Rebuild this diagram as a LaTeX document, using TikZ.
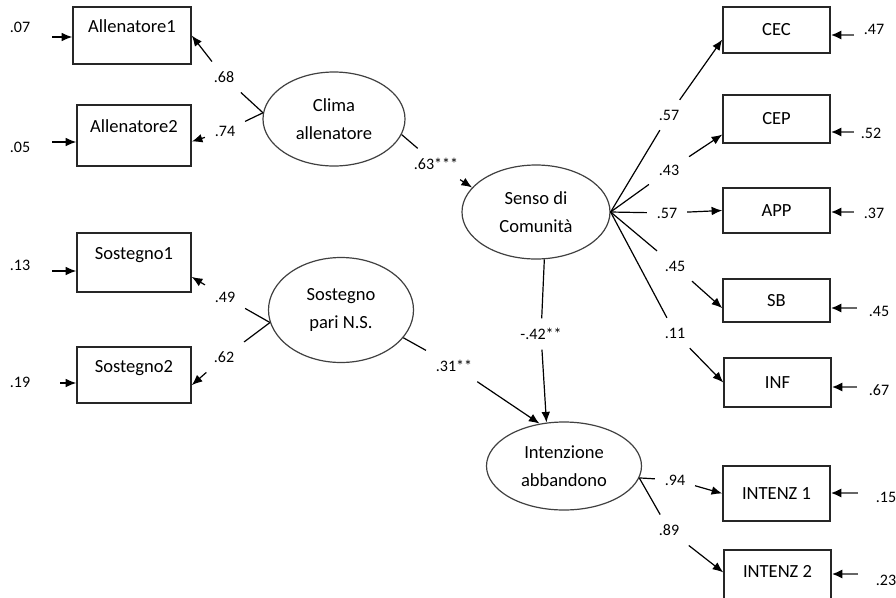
\documentclass[tikz,border=0pt]{standalone}
\usepackage{fontspec}
\setmainfont{Carlito}
\usetikzlibrary{shapes.geometric, arrows.meta}

\begin{document}
\begin{tikzpicture}[x=0.75pt, y=-0.75pt, line width=0.9pt,
		obs/.style={draw=black!85, line width=1.1pt, inner sep=0pt, minimum width=107*0.75pt, minimum height=46*0.75pt, font=\fontsize{13.9}{21}\selectfont},
		obsl/.style={obs, text height=10pt, text depth=14.3pt},
		lat/.style={draw=black!75, ellipse, inner sep=0pt, align=center, font=\fontsize{13.9}{21}\selectfont},
		coef/.style={inner sep=7pt, font=\fontsize{12}{14}\selectfont},
		err/.style={font=\fontsize{12}{14}\selectfont},
		arr/.style={-{Latex[length=8pt, width=6.5pt]}},
		errarr/.style={-{Latex[length=8pt, width=7pt, color=black]}, draw=black!60, line width=1.6pt}]
			\def\px{0.75pt}

			\useasboundingbox (0,0) rectangle (896,597);
			\clip (0,0) rectangle (896,597);

			% Observed variables, left
			\node[obsl, minimum width=118*\px, minimum height=57*\px] (all1) at (132,35.5)  {Allenatore1};
			\node[obsl, minimum width=114*\px, minimum height=61*\px] (all2) at (134,135.5) {Allenatore2};
			\node[obsl, minimum width=114*\px, minimum height=59*\px] (sos1) at (134,262.5) {Sostegno1};
			\node[obsl, minimum width=114*\px, minimum height=56*\px] (sos2) at (134,375)   {Sostegno2};

			% Observed variables, right
			\node[obs]                          (cec)  at (776.5,30)    {CEC};
			\node[obs, minimum height=48*\px]   (cep)  at (776.5,119)   {CEP};
			\node[obs, minimum height=45*\px]   (app)  at (776.5,210.5) {APP};
			\node[obs, minimum height=43*\px]   (sb)   at (776.5,300.5) {SB};
			\node[obs, minimum height=49*\px]   (inf)  at (777.5,382.5) {INF};
			\node[obs, minimum height=55*\px]   (int1) at (776.5,493.5) {INTENZ 1};
			\node[obsl, minimum height=60*\px]  (int2) at (777.5,580)   {INTENZ 2};

			% Latent variables
			\node[lat, minimum width=142*\px, minimum height=94*\px]  (clima)  at (334,119) {Clima\\allenatore};
			\node[lat, minimum width=148*\px, minimum height=94*\px]  (senso)  at (536,212) {Senso di\\Comunità};
			\node[lat, minimum width=145*\px, minimum height=105*\px] (sost)   at (341,310) {Sostegno\\pari N.S.};
			\node[lat, minimum width=155*\px, minimum height=88*\px]  (intenz) at (564,466) {Intenzione\\abbandono};

			% Coefficients
			\node[coef] (l68)  at (224,77)  {.68};
			\node[coef] (l74)  at (225,131) {.74};
			\node[coef] (l49)  at (225,297) {.49};
			\node[coef] (l62)  at (224,357) {.62};
			\node[coef] (l63)  at (436,164) {.63***};
			\node[coef] (l31)  at (454,366) {.31**};
			\node[coef] (l42)  at (541,334) {-.42**};
			\node[coef] (l57a) at (669,115) {.57};
			\node[coef] (l43)  at (669,170) {.43};
			\node[coef] (l57b) at (667,213) {.57};
			\node[coef] (l45)  at (675,266) {.45};
			\node[coef] (l11)  at (675,333) {.11};
			\node[coef] (l94)  at (675,480) {.94};
			\node[coef] (l89)  at (669,530) {.89};

			% Clima allenatore
			\draw (clima.175) -- (l68);
			\draw[arr] (l68) -- (all1.east);
			\draw (clima.175) -- (l74);
			\draw[arr] (l74) -- (all2.-6);

			% Sostegno pari
			\draw (sost.190) -- (l49);
			\draw[arr] (l49) -- (sos1.-14);
			\draw (sost.190) -- (l62);
			\draw[arr] (l62) -- (sos2.-10);

			% Structural paths
			\draw (clima.-13) -- (l63);
			\draw[arr] (l63) -- (senso.159);
			\draw (sost.-24) -- (l31);
			\draw[arr] (l31) -- (intenz.120);
			\draw (senso.-80) -- (l42);
			\draw[arr] (l42) -- (intenz.112);

			% Senso di Comunita
			\draw (senso.east) -- (l57a);
			\draw[arr] (l57a) -- (cec.190);
			\draw (senso.east) -- (l43);
			\draw[arr] (l43) -- (cep.196);
			\draw (senso.east) -- (l57b);
			\draw[arr] (l57b) -- (app.west);
			\draw (senso.east) -- (l45);
			\draw[arr] (l45) -- (sb.188);
			\draw (senso.east) -- (l11);
			\draw[arr] (l11) -- (inf.west);

			% Intenzione abbandono
			\draw (intenz.-9) -- (l94);
			\draw[arr] (l94) -- (int1.west);
			\draw (intenz.-9) -- (l89);
			\draw[arr] (l89) -- (int2.172);

			% Errors, left
			\coordinate (ea1) at (52,37);
			\coordinate (ea2) at (52,142);
			\coordinate (es1) at (52,271);
			\coordinate (es2) at (60,383);
			\draw[arr] (ea1) -- (ea1 -| all1.west);
			\draw[arr] (ea2) -- (ea2 -| all2.west);
			\draw[arr] (es1) -- (es1 -| sos1.west);
			\draw[arr] (es2) -- (es2 -| sos2.west);
			\node[err] (v07) at (20,27)  {.07};
			\node[err] (v05) at (20,147) {.05};
			\node[err] (v13) at (20,265) {.13};
			\node[err] (v19) at (20,382) {.19};

			% Errors, right
			\coordinate (ecec) at (854,35);
			\coordinate (ecep) at (854,132);
			\coordinate (eapp) at (854,212);
			\coordinate (esb)  at (857,308);
			\coordinate (einf) at (857,387);
			\coordinate (ei1)  at (858,493);
			\coordinate (ei2)  at (858,574);
			\draw[errarr] (ecec) -- (ecec -| cec.east);
			\draw[errarr] (ecep) -- (ecep -| cep.east);
			\draw[errarr] (eapp) -- (eapp -| app.east);
			\draw[errarr] (esb)  -- (esb -| sb.east);
			\draw[errarr] (einf) -- (einf -| inf.east);
			\draw[errarr] (ei1)  -- (ei1 -| int1.east);
			\draw[errarr] (ei2)  -- (ei2 -| int2.east);
			\node[err] (v47) at (874,29)  {.47};
			\node[err] (v52) at (871,133) {.52};
			\node[err] (v37) at (874,213) {.37};
			\node[err] (v45) at (879,311) {.45};
			\node[err] (v67) at (879,390) {.67};
			\node[err] (v15) at (886,497) {.15};
			\node[err] (v23) at (886,580) {.23};
		\end{tikzpicture}
\end{document}
